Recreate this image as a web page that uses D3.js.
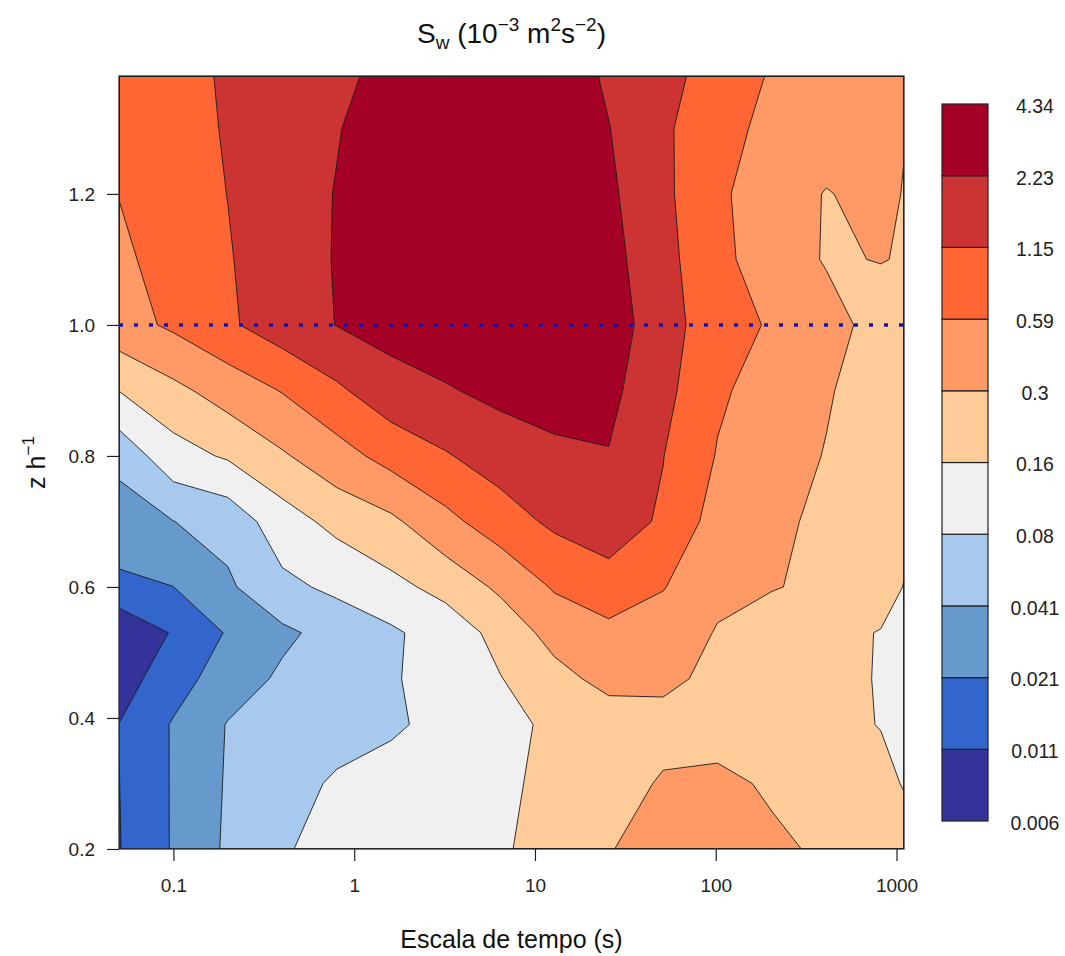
<!DOCTYPE html>
<html>
<head>
<meta charset="utf-8">
<script src="https://cdn.jsdelivr.net/npm/d3@7"></script>
<style>
  html, body { margin: 0; padding: 0; background: #ffffff; }
  svg { display: block; font-family: "Liberation Sans", Arial, Helvetica, sans-serif; }
</style>
</head>
<body>
<svg id="chart" width="1065" height="956"></svg>
<script>
// Time scales (s) of the grid columns
const timeScales = [0.05, 0.1, 0.2, 0.4, 0.8, 1.6, 3.2, 6.4, 12.8, 25.6, 51.2, 102.4, 204.8, 409.6, 819.2, 1100];

// Normalised heights z/h of the grid rows, bottom to top
const heights = [0.2, 0.3, 0.39, 0.46, 0.53, 0.6, 0.7, 0.8, 0.9, 1.0, 1.1, 1.2, 1.3, 1.38];

// S_w (10^-3 m^2 s^-2): one row per height, one value per time scale
const swRows = [
  [0.0107, 0.0222, 0.0456, 0.0748, 0.102, 0.113, 0.13, 0.151, 0.192, 0.29, 0.396, 0.39, 0.332, 0.275, 0.22, 0.199],
  [0.0109, 0.0222, 0.0438, 0.0612, 0.0875, 0.101, 0.122, 0.148, 0.177, 0.22, 0.323, 0.343, 0.278, 0.22, 0.187, 0.155],
  [0.0111, 0.0222, 0.0424, 0.05, 0.0604, 0.0733, 0.0951, 0.132, 0.181, 0.21, 0.233, 0.233, 0.21, 0.187, 0.157, 0.13],
  [0.0082, 0.0159, 0.0291, 0.0456, 0.0584, 0.0748, 0.106, 0.156, 0.241, 0.37, 0.355, 0.25, 0.206, 0.187, 0.155, 0.13],
  [0.006, 0.0117, 0.0222, 0.0361, 0.0518, 0.0714, 0.112, 0.194, 0.38, 0.48, 0.42, 0.289, 0.22, 0.181, 0.157, 0.139],
  [0.0185, 0.0209, 0.0371, 0.0677, 0.0925, 0.135, 0.193, 0.337, 0.63, 0.94, 0.61, 0.343, 0.31, 0.265, 0.193, 0.158],
  [0.0293, 0.0407, 0.0511, 0.119, 0.194, 0.263, 0.49, 0.84, 1.31, 1.5, 1.07, 0.44, 0.37, 0.244, 0.199, 0.176],
  [0.05, 0.124, 0.173, 0.278, 0.45, 0.75, 1.09, 1.56, 2.02, 2.17, 1.165, 0.567, 0.41, 0.29, 0.22, 0.193],
  [0.162, 0.255, 0.40, 0.61, 1.03, 1.72, 2.11, 2.62, 2.72, 2.62, 1.4, 0.65, 0.45, 0.32, 0.21, 0.206],
  [0.45, 0.66, 1.04, 1.64, 2.26, 2.82, 3.33, 3.44, 3.22, 3.15, 1.51, 0.79, 0.55, 0.36, 0.25, 0.26],
  [0.52, 0.76, 1.1, 1.64, 2.31, 2.91, 3.44, 3.56, 3.11, 2.8, 1.4, 0.73, 0.39, 0.289, 0.304, 0.293],
  [0.598, 0.83, 1.16, 1.63, 2.29, 2.91, 3.56, 3.8, 3.22, 2.51, 1.33, 0.66, 0.42, 0.29, 0.37, 0.29],
  [0.72, 0.93, 1.2, 1.61, 2.16, 3.01, 3.67, 3.93, 3.33, 2.27, 1.31, 0.68, 0.53, 0.42, 0.37, 0.31],
  [0.77, 0.97, 1.22, 1.56, 2.01, 2.56, 3.56, 4.34, 3.33, 2.03, 1.36, 0.92, 0.55, 0.45, 0.42, 0.45]
];

// Contour levels and the fill of each band [level k, level k+1)
const levels = [0.006, 0.011, 0.021, 0.041, 0.08, 0.16, 0.3, 0.59, 1.15, 2.23, 4.34];
const levelLabels = ["0.006", "0.011", "0.021", "0.041", "0.08", "0.16", "0.3", "0.59", "1.15", "2.23", "4.34"];
const bandColors = ["#333399", "#3366CC", "#6699CC", "#A8C9EE", "#F0F0F0",
                    "#FFCC99", "#FF9966", "#FF6633", "#CC3333", "#A50026"];

// Axis ticks and the reference height line
const xTickValues = [0.1, 1, 10, 100, 1000];
const yTickValues = [0.2, 0.4, 0.6, 0.8, 1.0, 1.2];
const referenceHeight = [1.0];

// ---------------------------------------------------------------- layout
const svg = d3.select("#chart");
const plot = { left: 119, right: 904, top: 76, bottom: 849 };
const legendBox = { left: 942, width: 46, top: 104, bottom: 821 };
const FONT = '"Liberation Sans", Arial, Helvetica, sans-serif';

const x = d3.scaleLog().domain(d3.extent(timeScales)).range([plot.left, plot.right]);
const y = d3.scaleLinear().domain(d3.extent(heights)).range([plot.bottom, plot.top]);

// ---------------------------------------------------------------- contours
const nx = timeScales.length, ny = heights.length;
const logGrid = [];
for (let j = 0; j < ny; j++) for (let i = 0; i < nx; i++) logGrid.push(Math.log10(swRows[j][i]));

const colPx = timeScales.map(t => x(t));
const rowPx = heights.map(h => y(h));

// d3.contours places sample i at grid coordinate i + 0.5; map that onto the
// sample's pixel position, interpolating linearly between neighbouring samples.
function gridToPx(c, pos) {
  const u = c - 0.5;
  if (u <= 0) return pos[0];
  if (u >= pos.length - 1) return pos[pos.length - 1];
  const i = Math.floor(u), f = u - i;
  return pos[i] + f * (pos[i + 1] - pos[i]);
}
const gridProjection = d3.geoTransform({
  point(gx, gy) { this.stream.point(gridToPx(gx, colPx), gridToPx(gy, rowPx)); }
});
const gridPath = d3.geoPath(gridProjection);

const bandThresholds = levels.slice(0, levels.length - 1).map(Math.log10);
const contourSets = d3.contours().size([nx, ny]).thresholds(bandThresholds)(logGrid);

svg.append("defs").append("clipPath").attr("id", "plot-clip")
  .append("rect")
  .attr("x", plot.left).attr("y", plot.top)
  .attr("width", plot.right - plot.left).attr("height", plot.bottom - plot.top);

const field = svg.append("g").attr("clip-path", "url(#plot-clip)");
field.append("rect")
  .attr("x", plot.left).attr("y", plot.top)
  .attr("width", plot.right - plot.left).attr("height", plot.bottom - plot.top)
  .attr("fill", bandColors[0]);

field.selectAll("path.band")
  .data(contourSets)
  .join("path")
  .attr("class", "band")
  .attr("d", gridPath)
  .attr("fill", (d, k) => bandColors[k])
  .attr("fill-rule", "evenodd")
  .attr("stroke", "none");

field.selectAll("path.isoline")
  .data(contourSets.slice(1))
  .join("path")
  .attr("class", "isoline")
  .attr("d", gridPath)
  .attr("fill", "none")
  .attr("stroke", "#1c1c1c")
  .attr("stroke-width", 0.9)
  .attr("stroke-linejoin", "round");

// reference line z/h = 1
field.selectAll("line.ref")
  .data(referenceHeight)
  .join("line")
  .attr("class", "ref")
  .attr("x1", plot.left).attr("x2", plot.right)
  .attr("y1", d => y(d)).attr("y2", d => y(d))
  .attr("stroke", "#1414B4")
  .attr("stroke-width", 3.6)
  .attr("stroke-dasharray", "4 11");

// frame
svg.append("rect")
  .attr("x", plot.left).attr("y", plot.top)
  .attr("width", plot.right - plot.left).attr("height", plot.bottom - plot.top)
  .attr("fill", "none").attr("stroke", "#222").attr("stroke-width", 1.2);

// ---------------------------------------------------------------- axes
const xAxis = svg.append("g")
  .attr("transform", `translate(0,${plot.bottom})`)
  .call(d3.axisBottom(x).tickValues(xTickValues).tickFormat(d3.format("~g"))
    .tickSize(12).tickPadding(18));
const yAxis = svg.append("g")
  .attr("transform", `translate(${plot.left},0)`)
  .call(d3.axisLeft(y).tickValues(yTickValues).tickFormat(d3.format(".1f"))
    .tickSize(12).tickPadding(12));
[xAxis, yAxis].forEach(g => {
  g.select(".domain").remove();
  g.selectAll(".tick line").attr("stroke", "#222").attr("stroke-width", 1.2);
  g.selectAll(".tick text").attr("fill", "#222").attr("font-size", 19).attr("font-family", FONT);
});

// ---------------------------------------------------------------- titles
const title = svg.append("text")
  .attr("x", (plot.left + plot.right) / 2).attr("y", 43)
  .attr("text-anchor", "middle").attr("font-size", 28).attr("fill", "#111");
title.append("tspan").text("S");
title.append("tspan").attr("font-size", 19).attr("dy", 6).text("w");
title.append("tspan").attr("dy", -6).text(" (10");
title.append("tspan").attr("font-size", 19).attr("dy", -12).text("\u22123");
title.append("tspan").attr("dy", 12).text(" m");
title.append("tspan").attr("font-size", 19).attr("dy", -12).text("2");
title.append("tspan").attr("dy", 12).text("s");
title.append("tspan").attr("font-size", 19).attr("dy", -12).text("\u22122");
title.append("tspan").attr("dy", 12).text(")");

svg.append("text")
  .attr("x", (plot.left + plot.right) / 2).attr("y", 948)
  .attr("text-anchor", "middle").attr("font-size", 25).attr("fill", "#111")
  .text("Escala de tempo (s)");

const yTitle = svg.append("text")
  .attr("transform", `translate(45,${(plot.top + plot.bottom) / 2}) rotate(-90)`)
  .attr("text-anchor", "middle").attr("font-size", 25).attr("fill", "#111");
yTitle.append("tspan").text("z h");
yTitle.append("tspan").attr("font-size", 17).attr("dy", -11).text("\u22121");

// ---------------------------------------------------------------- colour key
const ly = d3.scaleLinear().domain([0, levels.length - 1]).range([legendBox.bottom, legendBox.top]);
const key = svg.append("g");
key.selectAll("rect")
  .data(bandColors)
  .join("rect")
  .attr("x", legendBox.left)
  .attr("y", (c, k) => ly(k + 1))
  .attr("width", legendBox.width)
  .attr("height", (c, k) => ly(k) - ly(k + 1))
  .attr("fill", c => c)
  .attr("stroke", "#222").attr("stroke-width", 1.2);
key.selectAll("text")
  .data(levelLabels)
  .join("text")
  .attr("x", 1035)
  .attr("y", (s, k) => ly(k) + 2)
  .attr("dy", "0.35em")
  .attr("text-anchor", "middle")
  .attr("font-size", 19.5)
  .attr("fill", "#222")
  .text(s => s);
</script>
</body>
</html>
